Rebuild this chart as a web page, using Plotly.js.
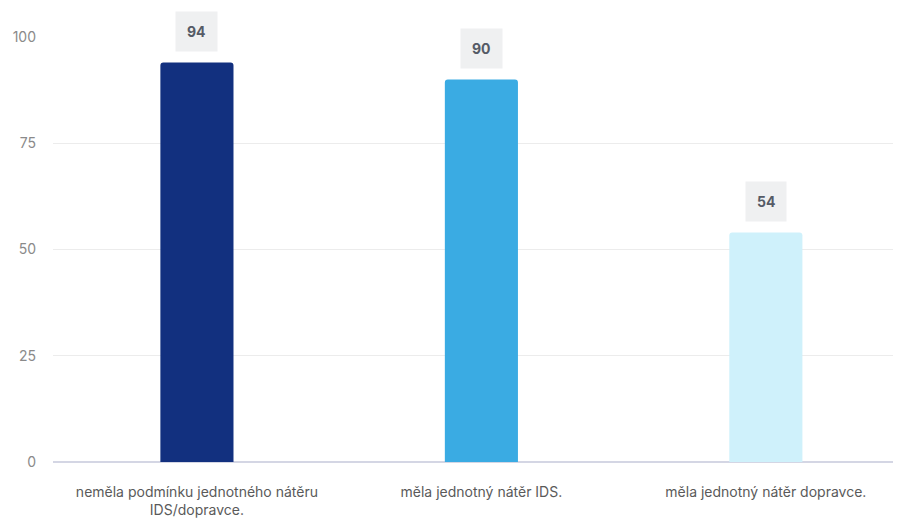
<!DOCTYPE html>
<html>
<head>
<meta charset="utf-8">
<script src="https://cdn.plot.ly/plotly-3.0.1.min.js"></script>
<style>html,body{margin:0;padding:0;background:#fff;}#chart{width:897px;height:523px;}</style>
</head>
<body>
<div id="chart"></div>
<script>
const categories = ["neměla podmínku jednotného nátěru<br>IDS/dopravce.", "měla jednotný nátěr IDS.", "měla jednotný nátěr dopravce."];
const values = [94, 90, 54];
const barColors = ["#12307f", "#3aabe3", "#cff1fb"];
const yTicks = [0, 25, 50, 75, 100];

const trace = {
  type: "bar",
  x: [0, 1, 2],
  y: values,
  width: 0.257,
  marker: {color: barColors, cornerradius: 3},
  hoverinfo: "none",
  cliponaxis: false
};

const annotations = values.map((v, i) => ({
  x: i, y: v, xref: "x", yref: "y",
  text: "<b>" + v + "</b>",
  showarrow: false,
  yshift: 31,
  bgcolor: "#eff0f1",
  borderpad: 11,
  font: {family: "Inter, 'Open Sans', sans-serif", size: 14, color: "#555b66"}
}));

const layout = {
  width: 897, height: 523,
  margin: {l: 53, r: 4, t: 37, b: 61},
  paper_bgcolor: "#fff", plot_bgcolor: "#fff",
  showlegend: false,
  font: {family: "Inter, 'Open Sans', sans-serif"},
  xaxis: {
    range: [-0.506, 2.447],
    tickvals: [0, 1, 2],
    ticktext: categories,
    showgrid: false, zeroline: false, showline: false,
    ticks: "", ticklabelstandoff: 20,
    tickfont: {size: 14, color: "#5a5a5a"}
  },
  yaxis: {
    range: [0, 100],
    tickvals: yTicks,
    showgrid: true, gridcolor: "#ececec", gridwidth: 1,
    zeroline: true, zerolinecolor: "#d4d6e4", zerolinewidth: 2,
    showline: false, ticks: "", ticklabelstandoff: 16,
    tickfont: {size: 14, color: "#8a8a8a"}
  },
  annotations: annotations
};

Plotly.newPlot("chart", [trace], layout, {displayModeBar: false, staticPlot: true});
</script>
</body>
</html>
